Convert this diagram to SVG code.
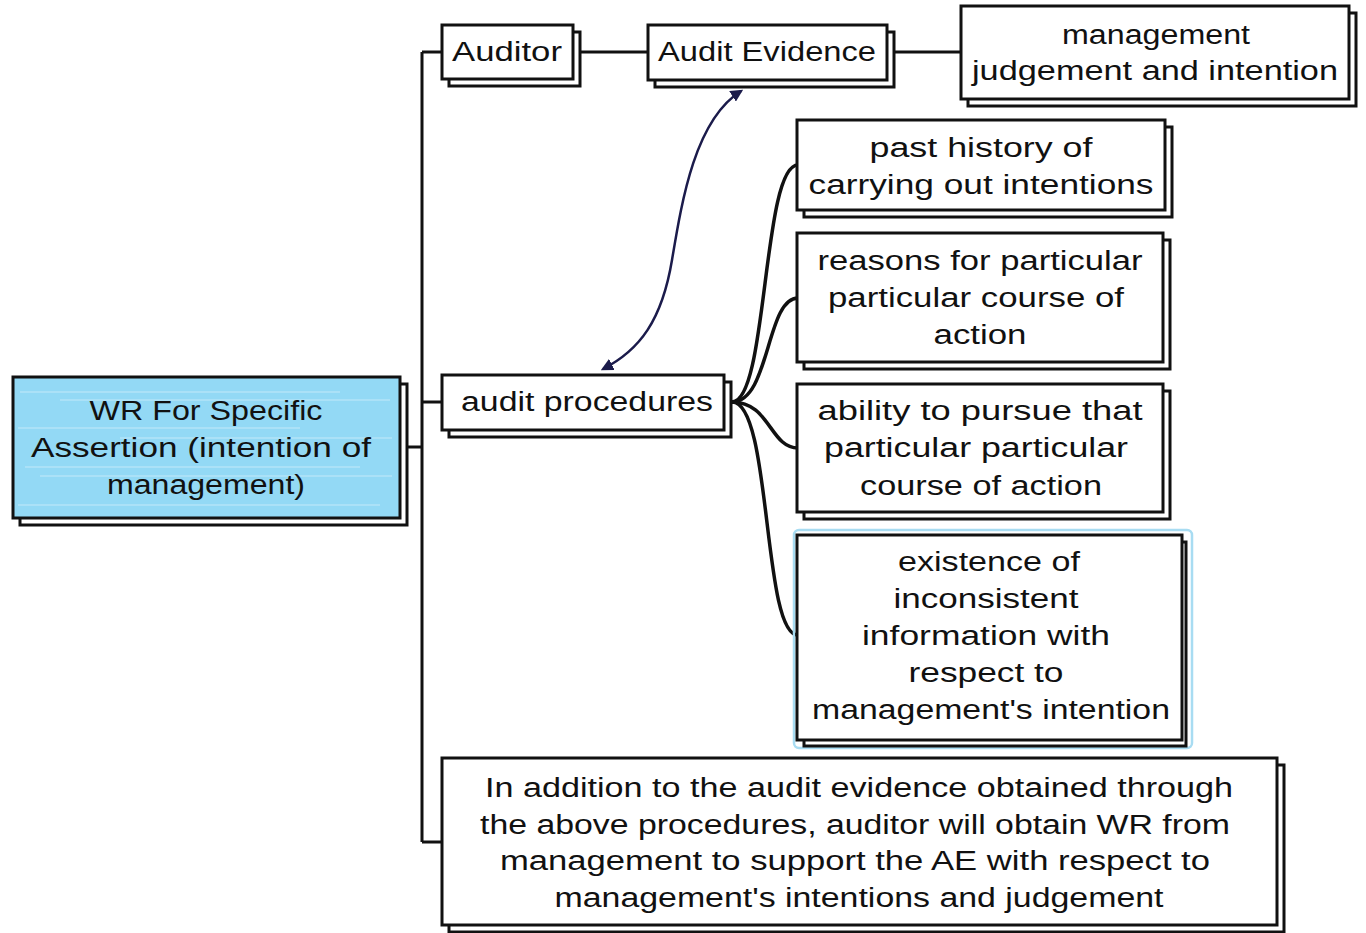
<svg xmlns="http://www.w3.org/2000/svg" width="1366" height="933" viewBox="0 0 1366 933">
<style>
.box{fill:#fff;stroke:#111;stroke-width:3}
.sh{fill:#fff;stroke:#111;stroke-width:3}
.root{fill:#93d9f5;stroke:#111;stroke-width:3}
.t{font-family:"Liberation Sans",Arial,sans-serif;font-size:27px;fill:#111;text-anchor:middle}
.ln{fill:none;stroke:#111;stroke-width:3}
.cl{fill:none;stroke:#111;stroke-width:3.5}
.ar{fill:none;stroke:#1b1b4b;stroke-width:2.5}
</style>
<defs>
<marker id="ah" viewBox="0 0 10 10" refX="8" refY="5" markerWidth="5" markerHeight="5" orient="auto-start-reverse" markerUnits="strokeWidth">
<path d="M0,0 L10,5 L0,10 z" fill="#1b1b4b"/>
</marker>
</defs>
<rect width="1366" height="933" fill="#fff"/>
<g id="connectors">
<path class="ln" d="M422,52 L422,842"/>
<path class="ln" d="M400,447 L422,447"/>
<path class="ln" d="M422,52 L443,52"/>
<path class="ln" d="M422,402 L443,402"/>
<path class="ln" d="M422,842 L443,842"/>
<path class="ln" d="M580,52 L648,52"/>
<path class="ln" d="M894,52 L962,52"/>
<path class="cl" d="M732,402 C768,402 762,165 798,165"/>
<path class="cl" d="M732,402 C770,402 766,298 798,298"/>
<path class="cl" d="M732,402 C770,402 770,448 798,448"/>
<path class="cl" d="M732,402 C772,402 762,635 798,635"/>
<path class="ar" d="M741,91 C695,120 682,200 672,260 C662,320 640,350 603,369" marker-start="url(#ah)" marker-end="url(#ah)"/>
</g>
<g id="root">
<rect class="sh" x="20" y="384" width="387" height="141"/>
<rect class="root" x="13" y="377" width="387" height="141"/>
<g stroke="#fff" stroke-width="1.2" opacity="0.45">
<line x1="20" y1="392" x2="340" y2="392"/>
<line x1="60" y1="400" x2="390" y2="400"/>
<line x1="18" y1="428" x2="300" y2="428"/>
<line x1="120" y1="438" x2="392" y2="438"/>
<line x1="25" y1="467" x2="360" y2="467"/>
<line x1="40" y1="476" x2="392" y2="476"/>
<line x1="18" y1="505" x2="380" y2="505"/>
</g>
<text class="t" x="206" y="420" textLength="233" lengthAdjust="spacingAndGlyphs">WR For Specific</text>
<text class="t" x="201" y="457" textLength="340" lengthAdjust="spacingAndGlyphs">Assertion (intention of</text>
<text class="t" x="206" y="494" textLength="198" lengthAdjust="spacingAndGlyphs">management)</text>
</g>
<g id="auditor">
<rect class="sh" x="449" y="32" width="131" height="54"/>
<rect class="box" x="442" y="25" width="131" height="54"/>
<text class="t" x="507" y="61" textLength="110" lengthAdjust="spacingAndGlyphs">Auditor</text>
</g>
<g id="audit-evidence">
<rect class="sh" x="655" y="32" width="239" height="55"/>
<rect class="box" x="648" y="25" width="239" height="55"/>
<text class="t" x="767" y="61" textLength="218" lengthAdjust="spacingAndGlyphs">Audit Evidence</text>
</g>
<g id="management-judgement">
<rect class="sh" x="968" y="13" width="388" height="93"/>
<rect class="box" x="961" y="6" width="388" height="93"/>
<text class="t" x="1156" y="44" textLength="188" lengthAdjust="spacingAndGlyphs">management</text>
<text class="t" x="1155" y="80" textLength="366" lengthAdjust="spacingAndGlyphs">judgement and intention</text>
</g>
<g id="audit-procedures">
<rect class="sh" x="449" y="382" width="282" height="55"/>
<rect class="box" x="442" y="375" width="282" height="55"/>
<text class="t" x="587" y="411" textLength="252" lengthAdjust="spacingAndGlyphs">audit procedures</text>
</g>
<g id="past-history">
<rect class="sh" x="804" y="127" width="368" height="90"/>
<rect class="box" x="797" y="120" width="368" height="90"/>
<text class="t" x="981" y="157" textLength="223" lengthAdjust="spacingAndGlyphs">past history of</text>
<text class="t" x="981" y="194" textLength="345" lengthAdjust="spacingAndGlyphs">carrying out intentions</text>
</g>
<g id="reasons">
<rect class="sh" x="804" y="240" width="366" height="129"/>
<rect class="box" x="797" y="233" width="366" height="129"/>
<text class="t" x="980" y="270" textLength="325" lengthAdjust="spacingAndGlyphs">reasons for particular</text>
<text class="t" x="976" y="307" textLength="296" lengthAdjust="spacingAndGlyphs">particular course of</text>
<text class="t" x="980" y="344" textLength="93" lengthAdjust="spacingAndGlyphs">action</text>
</g>
<g id="ability">
<rect class="sh" x="804" y="391" width="366" height="128"/>
<rect class="box" x="797" y="384" width="366" height="128"/>
<text class="t" x="980" y="420" textLength="325" lengthAdjust="spacingAndGlyphs">ability to pursue that</text>
<text class="t" x="976" y="457" textLength="304" lengthAdjust="spacingAndGlyphs">particular particular</text>
<text class="t" x="981" y="495" textLength="242" lengthAdjust="spacingAndGlyphs">course of action</text>
</g>
<g id="existence">
<rect x="794" y="530" width="398" height="218" rx="5" fill="none" stroke="#a8dcf2" stroke-width="2.5"/>
<rect class="sh" x="804" y="542" width="382" height="204"/>
<rect class="box" x="797" y="535" width="385" height="205"/>
<text class="t" x="989" y="571" textLength="182" lengthAdjust="spacingAndGlyphs">existence of</text>
<text class="t" x="986" y="608" textLength="185" lengthAdjust="spacingAndGlyphs">inconsistent</text>
<text class="t" x="986" y="645" textLength="248" lengthAdjust="spacingAndGlyphs">information with</text>
<text class="t" x="986" y="682" textLength="155" lengthAdjust="spacingAndGlyphs">respect to</text>
<text class="t" x="991" y="719" textLength="358" lengthAdjust="spacingAndGlyphs">management's intention</text>
</g>
<g id="additional-wr">
<rect class="sh" x="449" y="765" width="835" height="167"/>
<rect class="box" x="442" y="758" width="835" height="167"/>
<text class="t" x="859" y="797" textLength="748" lengthAdjust="spacingAndGlyphs">In addition to the audit evidence obtained through</text>
<text class="t" x="855" y="834" textLength="750" lengthAdjust="spacingAndGlyphs">the above procedures, auditor will obtain WR from</text>
<text class="t" x="855" y="870" textLength="710" lengthAdjust="spacingAndGlyphs">management to support the AE with respect to</text>
<text class="t" x="859" y="907" textLength="609" lengthAdjust="spacingAndGlyphs">management's intentions and judgement</text>
</g>
</svg>
